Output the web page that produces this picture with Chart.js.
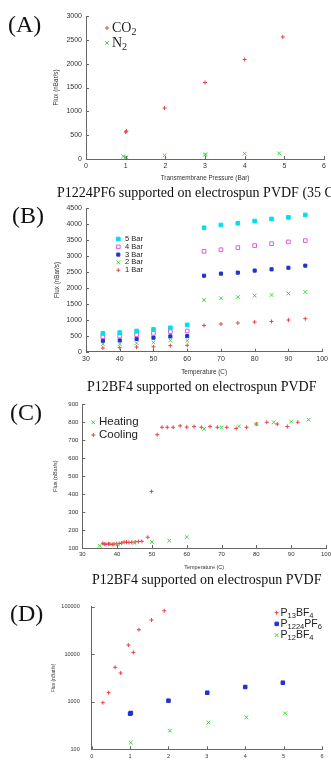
<!DOCTYPE html>
<html><head><meta charset="utf-8">
<script src="https://cdn.jsdelivr.net/npm/chart.js@4.4.1/dist/chart.umd.min.js"></script>
<style>
html,body{margin:0;padding:0;background:#fff;}
#wrap{position:relative;width:331px;height:766px;overflow:hidden;background:#fff;}
canvas{position:absolute;left:0;}
.cap{position:absolute;font-family:"Liberation Serif","Times New Roman",serif;font-size:14px;line-height:14px;white-space:nowrap;color:#111;}
.pl{position:absolute;font-family:"Liberation Serif","Times New Roman",serif;font-size:24px;line-height:24px;color:#111;}
</style></head>
<body><div id="wrap">
<canvas id="cA" width="331" height="186" style="top:0px"></canvas>
<canvas id="cB" width="331" height="190" style="top:190px"></canvas>
<canvas id="cC" width="345" height="192" style="top:380px"></canvas>
<canvas id="cD" width="331" height="186" style="top:580px"></canvas>
<div class="pl" style="left:8px;top:12px">(A)</div>
<div class="pl" style="left:12px;top:203px">(B)</div>
<div class="pl" style="left:10px;top:400px">(C)</div>
<div class="pl" style="left:10px;top:601px">(D)</div>
<div class="cap" style="left:57px;top:186px">P1224PF6 supported on electrospun PVDF (35 C</div>
<div class="cap" style="left:87px;top:380px">P12BF4 supported on electrospun PVDF</div>
<div class="cap" style="left:92px;top:573px">P12BF4 supported on electrospun PVDF</div>
</div>
<script>
// ---------- Panel A ----------
const aCO2X = [1.0, 1.02, 1.98, 3.0, 4.0, 4.96];
const aCO2Y = [565, 586, 1068, 1605, 2087, 2561];
const aN2X = [0.94, 1.0, 1.02, 1.98, 3.0, 3.02, 4.0, 4.87];
const aN2Y = [56, 28, 35, 77, 90, 98, 112, 119];
const aLabels = ['CO_2', 'N_2'];
const aXTicks = [0, 1, 2, 3, 4, 5, 6];
const aYTicks = [0, 500, 1000, 1500, 2000, 2500, 3000];

// ---------- Panel B ----------
const bTemps = [35, 40, 45, 50, 55, 60, 65, 70, 75, 80, 85, 90, 95];
const b5Bar = [575, 600, 650, 700, 750, 840, 3890, 3975, 4030, 4100, 4165, 4215, 4290];
const b4Bar = [470, 490, 530, 575, 630, 650, 3150, 3200, 3265, 3330, 3390, 3445, 3485];
const b3Bar = [345, 355, 400, 440, 480, 490, 2385, 2450, 2480, 2545, 2585, 2635, 2700];
const b2Bar = [240, 240, 270, 295, 355, 345, 1620, 1675, 1715, 1760, 1780, 1830, 1875];
const b1Bar = [115, 125, 145, 155, 190, 200, 825, 870, 900, 930, 950, 995, 1035];
const bLabels = ['5 Bar', '4 Bar', '3 Bar', '2 Bar', '1 Bar'];
const bXTicks = [30, 40, 50, 60, 70, 80, 90, 100];
const bYTicks = [0, 500, 1000, 1500, 2000, 2500, 3000, 3500, 4000, 4500];

// ---------- Panel C ----------
const cHeatT = [35, 40, 45, 50, 55, 60, 65, 70, 75, 80, 85, 90, 95];
const cHeatF = [112, 120, 128, 134, 141, 161, 763, 772, 777, 790, 800, 804, 814];
const cCoolT = [35.9, 36.3, 36.8, 37.5, 37.9, 38.6, 39.1, 39.9, 40.6, 41.3, 42.0, 42.7, 43.4, 44.2, 45.2, 46.1, 47.1, 48.8, 49.9, 51.5, 52.9, 54.4, 56.1, 58.1, 60.0, 62.1, 64.2, 66.7, 68.8, 71.5, 74.2, 77.2, 80.0, 83.0, 86.0, 88.9, 91.9];
const cCoolF = [126, 122, 121, 123, 122, 120, 122, 124, 125, 128, 133, 133, 131, 132, 134, 136, 137, 160, 415, 731, 772, 772, 772, 780, 773, 776, 772, 776, 772, 772, 765, 772, 790, 800, 790, 776, 800];
const cLabels = ['Heating', 'Cooling'];
const cXTicks = [30, 40, 50, 60, 70, 80, 90, 100];
const cYTicks = [100, 200, 300, 400, 500, 600, 700, 800, 900];

// ---------- Panel D ----------
const dP13X = [0.29, 0.44, 0.61, 0.755, 0.955, 1.085, 1.23, 1.56, 1.89];
const dP13Y = [957, 1554, 5300, 4025, 15600, 10950, 32800, 52400, 82300];
const dP1224X = [1.0, 1.02, 2.0, 3.01, 4.0, 4.98];
const dP1224Y = [562, 580, 1055, 1550, 2045, 2520];
const dP12X = [1.02, 2.04, 3.04, 4.03, 5.04];
const dP12Y = [138, 247, 364, 471, 571];
const dLabels = ['P_13BF_4', 'P_1224PF_6', 'P_12BF_4'];
const dXTicks = [0, 1, 2, 3, 4, 5, 6];
const dYTicks = [100, 1000, 10000, 100000];

const RED = '#e8404a', GREEN = '#3fd83f', BLUE = '#2233cc', MAG = '#dd5ddd', CYAN = '#00dfee';
const SANS = '"Liberation Sans", Arial, sans-serif';
const SERIF = '"Liberation Serif", "Times New Roman", serif';

const pts = (xs, ys) => xs.map((x, i) => ({x: x, y: ys[i]}));
function ds(label, data, style, color, r, fill, bw) {
  return {label: label, data: data, pointStyle: style, pointRadius: r, pointHoverRadius: r,
    borderColor: color, backgroundColor: fill ? color : 'rgba(0,0,0,0)', pointBorderWidth: bw || 1,
    borderWidth: bw || 1, showLine: false};
}

function drawRich(ctx, text, x, y, size, family) {
  const parts = text.split(/_(\d+)/);
  let cx = x;
  parts.forEach((p, i) => {
    if (!p) return;
    const sub = i % 2 === 1;
    const fs = sub ? size * 0.72 : size;
    ctx.font = fs + 'px ' + family;
    ctx.fillText(p, cx, sub ? y + size * 0.3 : y);
    cx += ctx.measureText(p).width;
  });
}

const keyPlugin = {
  id: 'key',
  afterDatasetsDraw(chart, args, o) {
    if (!o || !o.labels) return;
    const ctx = chart.ctx;
    ctx.save();
    chart.data.datasets.forEach((d, i) => {
      const y = o.y + i * o.dy;
      ctx.strokeStyle = d.borderColor;
      ctx.fillStyle = d.backgroundColor;
      ctx.lineWidth = d.borderWidth;
      Chart.helpers.drawPoint(ctx, {pointStyle: d.pointStyle, radius: d.pointRadius, borderWidth: d.borderWidth, rotation: 0}, o.x, y);
      ctx.fillStyle = '#222';
      ctx.textBaseline = 'middle';
      ctx.textAlign = 'left';
      drawRich(ctx, o.labels[i], o.tx, y, o.size, o.family);
    });
    ctx.restore();
  }
};

const inTicks = {
  id: 'inTicks',
  afterDraw(chart) {
    const {ctx, chartArea: a} = chart;
    const xs = chart.scales.x, ys = chart.scales.y;
    ctx.save();
    ctx.strokeStyle = '#666';
    ctx.lineWidth = 1;
    xs.ticks.forEach(t => {
      const px = Math.round(xs.getPixelForValue(t.value)) + 0.5;
      ctx.beginPath(); ctx.moveTo(px, a.bottom); ctx.lineTo(px, a.bottom - 3); ctx.stroke();
    });
    ys.ticks.forEach(t => {
      const py = Math.round(ys.getPixelForValue(t.value)) + 0.5;
      ctx.beginPath(); ctx.moveTo(a.left, py); ctx.lineTo(a.left + 3, py); ctx.stroke();
    });
    ctx.restore();
  }
};

function build(id, g, datasets) {
  const canvas = document.getElementById(id);
  const H = canvas.height;
  return new Chart(canvas, {
    type: 'scatter',
    data: {datasets: datasets},
    options: {
      responsive: false, animation: false, events: [],
      layout: {padding: {left: 0, top: g.top, right: g.right, bottom: 0}},
      plugins: {legend: {display: false}, tooltip: {enabled: false}, key: g.key},
      scales: {
        x: {
          type: 'linear', min: g.xTicks[0], max: g.xTicks[g.xTicks.length - 1],
          afterBuildTicks: s => { s.ticks = g.xTicks.map(v => ({value: v})); },
          afterFit: s => { s.height = H - g.bottom; },
          grid: {display: false, drawTicks: false},
          border: {display: true, color: '#666', width: 1},
          ticks: {padding: g.xPad, color: '#333', maxRotation: 0, autoSkip: false, font: {family: SANS, size: g.tickSize}},
          title: {display: !!g.xTitle, text: g.xTitle || '', color: '#333', font: {family: SANS, size: g.titleSize}, padding: {top: 0, bottom: g.xTitlePad}}
        },
        y: {
          type: g.yLog ? 'logarithmic' : 'linear', min: g.yTicks[0], max: g.yTicks[g.yTicks.length - 1],
          afterBuildTicks: s => { s.ticks = g.yTicks.map(v => ({value: v})); },
          afterFit: s => { s.width = g.left; },
          grid: {display: false, drawTicks: false},
          border: {display: true, color: '#666', width: 1},
          ticks: {padding: g.yPad, color: '#333', autoSkip: false, font: {family: SANS, size: g.tickSize}, callback: v => String(v)},
          title: {display: true, text: 'Flux (nBar/s)', color: '#333', font: {family: SANS, size: g.titleSize}, padding: {top: g.yTitlePad, bottom: 0}}
        }
      }
    },
    plugins: [inTicks, keyPlugin]
  });
}

// Panel A
build('cA', {top: 16, right: 7, left: 86, bottom: 159, xPad: 3, yPad: 4, tickSize: 7, titleSize: 6.3,
  xTitle: 'Transmembrane Pressure (Bar)', xTitlePad: 4, yTitlePad: 52, xTicks: aXTicks, yTicks: aYTicks,
  key: {labels: aLabels, x: 107, tx: 112, y: 28, dy: 15, size: 14, family: SERIF}}, [
  ds(aLabels[0], pts(aCO2X, aCO2Y), 'cross', RED, 2, false, 1),
  ds(aLabels[1], pts(aN2X, aN2Y), 'crossRot', GREEN, 2.6, false, 1)
]);

// Panel B
build('cB', {top: 18.3, right: 7, left: 86, bottom: 161.7, xPad: 3, yPad: 4, tickSize: 7, titleSize: 6.3,
  xTitle: 'Temperature (C)', xTitlePad: 4.4, yTitlePad: 53, xTicks: bXTicks, yTicks: bYTicks,
  key: {labels: bLabels, x: 118.3, tx: 125, y: 49, dy: 7.8, size: 7.5, family: SANS}}, [
  ds(bLabels[0], pts(bTemps, b5Bar), 'rect', CYAN, 2.6, true, 1),
  ds(bLabels[1], pts(bTemps, b4Bar), 'rect', MAG, 2.6, false, 1),
  ds(bLabels[2], pts(bTemps, b3Bar), 'rect', BLUE, 2.2, true, 1),
  ds(bLabels[3], pts(bTemps, b2Bar), 'crossRot', GREEN, 2.6, false, 1),
  ds(bLabels[4], pts(bTemps, b1Bar), 'cross', RED, 2, false, 1)
]);

// Panel C
build('cC', {top: 24.3, right: 19, left: 82.3, bottom: 168, xPad: 3, yPad: 4, tickSize: 6, titleSize: 5.5,
  xTitle: 'Temperature (C)', xTitlePad: 1, yTitlePad: 52, xTicks: cXTicks, yTicks: cYTicks,
  key: {labels: cLabels, x: 93.3, tx: 99, y: 42.3, dy: 12.7, size: 11.5, family: SANS}}, [
  ds(cLabels[0], pts(cHeatT, cHeatF), 'crossRot', GREEN, 2.6, false, 1),
  ds(cLabels[1], pts(cCoolT, cCoolF), 'cross', RED, 2, false, 1)
]);

// Panel D
build('cD', {top: 26.7, right: 9, left: 91.7, bottom: 169.3, xPad: 4, yPad: 12, tickSize: 5.5, titleSize: 5, yLog: true,
  xTitle: '', xTitlePad: 0, yTitlePad: 51, xTicks: dXTicks, yTicks: dYTicks,
  key: {labels: dLabels, x: 276.7, tx: 280.5, y: 32.7, dy: 11.2, size: 10.5, family: SANS}}, [
  ds('P13BF4', pts(dP13X, dP13Y), 'cross', RED, 2, false, 1),
  ds('P1224PF6', pts(dP1224X, dP1224Y), 'rect', BLUE, 2.5, true, 1),
  ds('P12BF4', pts(dP12X, dP12Y), 'crossRot', GREEN, 2.6, false, 1)
]);
</script>
</body></html>
